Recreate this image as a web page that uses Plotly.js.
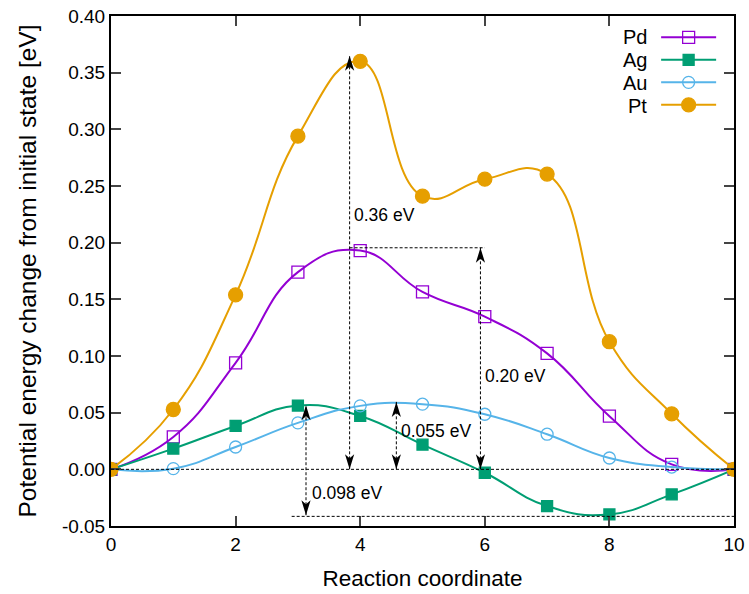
<!DOCTYPE html>
<html>
<head>
<meta charset="utf-8">
<script src="https://cdn.plot.ly/plotly-3.0.1.min.js"></script>
<style>html,body{margin:0;padding:0;background:#fff;}#chart{width:749px;height:594px;}</style>
</head>
<body>
<div id="chart"></div>
<script>
const coord = [0, 1, 2, 3, 4, 5, 6, 7, 8, 9, 10];
const pd = [0, 0.0286, 0.094, 0.174, 0.193, 0.1565, 0.1347, 0.1023, 0.0469, 0.0044, 0];
const ag = [0, 0.0183, 0.0383, 0.0563, 0.0471, 0.0218, -0.003, -0.0324, -0.0398, -0.0221, 0];
const au = [0, 0.0006, 0.0197, 0.041, 0.056, 0.0575, 0.0486, 0.031, 0.010, 0.002, 0];
const pt = [0, 0.0528, 0.154, 0.294, 0.360, 0.241, 0.256, 0.2605, 0.1126, 0.049, 0];
const seriesNames = ['Pd', 'Ag', 'Au', 'Pt'];
const xTicks = [0, 2, 4, 6, 8, 10];
const yTicks = [-0.05, 0, 0.05, 0.10, 0.15, 0.20, 0.25, 0.30, 0.35, 0.40];
const yTickText = ['-0.05', '0.00', '0.05', '0.10', '0.15', '0.20', '0.25', '0.30', '0.35', '0.40'];
const barrierLabels = ['0.36 eV', '0.20 eV', '0.055 eV', '0.098 eV'];

const colors = ['#9400d3', '#009e73', '#56b4e9', '#e69f00'];
const symbols = ['square-open', 'square', 'circle-open', 'circle'];
const sizes = [12, 11, 12, 14];
const values = [pd, ag, au, pt];
const FAM = 'Liberation Sans, Arial, sans-serif';

const traces = values.map((v, i) => ({
  x: coord, y: v, type: 'scatter', mode: 'lines+markers',
  name: ' ',
  line: {color: colors[i], width: 2, shape: 'spline', smoothing: 1.3},
  marker: {symbol: symbols[i], size: sizes[i], color: colors[i], line: {color: colors[i], width: 1.3}},
  showlegend: true
}));

const dash = {color: '#000', width: 1, dash: '3px,2px'};
const shapes = [
  {type: 'line', xref: 'x', yref: 'y', x0: 0, x1: 10, y0: 0, y1: 0, line: dash},
  {type: 'line', xref: 'x', yref: 'y', x0: 3.83, x1: 3.83, y0: 0, y1: 0.365, line: dash},
  {type: 'line', xref: 'x', yref: 'y', x0: 3.83, x1: 6.0, y0: 0.1955, y1: 0.1955, line: dash},
  {type: 'line', xref: 'x', yref: 'y', x0: 5.93, x1: 5.93, y0: 0, y1: 0.1955, line: dash},
  {type: 'line', xref: 'x', yref: 'y', x0: 4.58, x1: 4.58, y0: 0, y1: 0.0595, line: dash},
  {type: 'line', xref: 'x', yref: 'y', x0: 3.13, x1: 3.13, y0: -0.0405, y1: 0.0566, line: dash},
  {type: 'line', xref: 'x', yref: 'y', x0: 2.9, x1: 10, y0: -0.0415, y1: -0.0415, line: dash}
];

// arrowhead drawn as a pixel-sized path anchored at the arrow tip
function head(x, y, up) {
  const s = up ? -1 : 1;
  const p = 'M0,0 L-4.6,' + (s * 15) + ' L0,' + (s * 11) + ' L4.6,' + (s * 15) + ' Z';
  return {type: 'path', xref: 'x', yref: 'y', xsizemode: 'pixel', ysizemode: 'pixel',
    xanchor: x, yanchor: y, path: p, fillcolor: '#000', line: {width: 0}};
}
shapes.push(
  head(3.83, 0.365, true), head(3.83, 0, false),
  head(5.93, 0.1955, true), head(5.93, 0, false),
  head(4.58, 0.0595, true), head(4.58, 0, false),
  head(3.13, 0.0566, true), head(3.13, -0.0405, false)
);

const annFont = {family: FAM, size: 17.5, color: '#000'};
const annotations = [
  {x: 3.87, y: 0.2245, xref: 'x', yref: 'y', text: barrierLabels[0], showarrow: false, xanchor: 'left', font: annFont},
  {x: 5.97, y: 0.0825, xref: 'x', yref: 'y', text: barrierLabels[1], showarrow: false, xanchor: 'left', font: annFont},
  {x: 4.62, y: 0.0335, xref: 'x', yref: 'y', text: barrierLabels[2], showarrow: false, xanchor: 'left', font: annFont},
  {x: 3.2, y: -0.021, xref: 'x', yref: 'y', text: barrierLabels[3], showarrow: false, xanchor: 'left', font: annFont}
];
const legY = [0.958, 0.913, 0.868, 0.823];
seriesNames.forEach((n, i) => annotations.push({
  x: 0.8636, y: legY[i], xref: 'paper', yref: 'paper', text: n, showarrow: false,
  xanchor: 'right', yanchor: 'middle',
  font: {family: FAM, size: 20, color: '#000'}
}));

const axFont = {family: FAM, size: 19, color: '#000'};
const layout = {
  width: 749, height: 594,
  margin: {l: 111, r: 15, t: 16, b: 68},
  paper_bgcolor: '#fff', plot_bgcolor: '#fff',
  font: axFont,
  showlegend: true,
  legend: {x: 0.875, y: 0.99, xanchor: 'left', yanchor: 'top', bgcolor: 'rgba(0,0,0,0)',
    font: {family: FAM, size: 15}, itemwidth: 55, tracegroupgap: 0},
  xaxis: {range: [0, 10], tickvals: xTicks, ticks: 'inside', ticklen: 10, tickwidth: 2,
    showgrid: false, zeroline: false, showline: true, linewidth: 2, linecolor: '#000',
    mirror: 'ticks', tickfont: axFont,
    title: {text: 'Reaction coordinate', font: {family: FAM, size: 22.5}, standoff: 16}},
  yaxis: {range: [-0.05, 0.40], tickvals: yTicks, ticktext: yTickText, ticks: 'inside', ticklen: 10, tickwidth: 2,
    showgrid: false, zeroline: false, showline: true, linewidth: 2, linecolor: '#000',
    mirror: 'ticks', tickfont: axFont,
    title: {text: 'Potential energy change from initial state [eV]', font: {family: FAM, size: 24.5}, standoff: 18}},
  shapes: shapes,
  annotations: annotations
};
Plotly.newPlot('chart', traces, layout, {displayModeBar: false, staticPlot: true});
</script>
</body>
</html>
